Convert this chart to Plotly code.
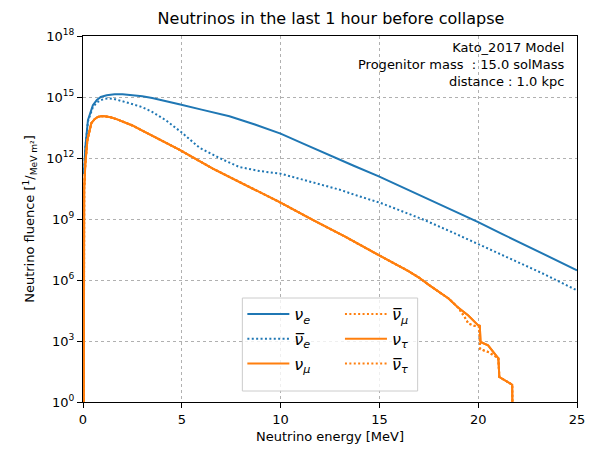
import numpy as np
import plotly.graph_objects as go

# ---------------- data (log10 of fluence) ----------------
nue_E = [0.05, 0.12, 0.25, 0.5, 0.7, 0.9, 1.2, 1.6, 2.0, 2.5, 3.0, 3.5, 4.0, 4.87, 6.0, 7.41,
         8.7, 10.0, 11.2, 12.45, 13.7, 14.97, 16.2, 17.5, 18.7, 20.0, 21.2, 22.5, 23.7, 25.0]
nue_log = [11.24, 12.54, 13.86, 14.6, 14.85, 15.0, 15.09, 15.13, 15.13, 15.1, 15.04, 14.95,
           14.85, 14.64, 14.38, 14.05, 13.65, 13.2, 12.68, 12.13, 11.62, 11.1, 10.55, 10.0,
           9.43, 8.85, 8.27, 7.67, 7.08, 6.48]

nuebar_E = [0.05, 0.12, 0.25, 0.5, 0.7, 0.9, 1.1, 1.3, 1.55, 1.8, 2.1, 2.4, 3.0, 3.5, 4.2,
            5.0, 5.9, 6.9, 7.9, 8.92, 10.0, 10.94, 11.95, 12.96, 13.97, 15.06, 16.1, 17.3,
            18.66, 20.0, 21.5, 23.2, 25.0]
nuebar_log = [11.2, 12.5, 13.8, 14.5, 14.72, 14.85, 14.91, 14.93, 14.91, 14.85, 14.78, 14.68,
              14.5, 14.27, 13.85, 13.25, 12.5, 12.0, 11.56, 11.36, 11.23, 10.99, 10.71, 10.45,
              10.12, 9.79, 9.4, 8.94, 8.36, 7.76, 7.1, 6.35, 5.49]

nux_E = [0.04, 0.06, 0.12, 0.22, 0.42, 0.6, 0.75, 0.9, 1.1, 1.4, 1.73, 2.1, 2.5, 3.0, 3.5,
         4.0, 4.87, 6.57, 8.25, 9.93, 11.6, 13.29, 14.97, 15.8, 16.47, 17.0, 17.5, 18.5,
         19.0, 19.5, 20.0, 20.08, 20.12, 20.5, 20.94, 21.02, 21.07, 21.6, 21.72, 21.74]
nux_log = [-1.0, 10.5, 11.74, 12.87, 13.71, 13.92, 14.02, 14.05, 14.05, 14.0, 13.9, 13.77,
           13.6, 13.35, 13.1, 12.85, 12.41, 11.48, 10.66, 9.84, 8.97, 8.12, 7.22, 6.8, 6.44,
           6.12, 5.76, 5.09, 4.63, 4.25, 3.77, 3.75, 2.95, 2.79, 2.21, 2.15, 1.23, 0.9, 0.85,
           -1.0]

nuxbar_E = [0.04, 0.06, 0.12, 0.22, 0.42, 0.6, 0.75, 0.9, 1.1, 1.4, 1.73, 2.1, 2.5, 3.0, 3.5,
            4.0, 4.87, 6.57, 8.25, 9.93, 11.6, 13.29, 14.97, 15.8, 16.47, 17.0, 17.5, 18.5,
            19.0, 19.3, 19.5, 19.8, 20.05, 20.1, 20.5, 20.94, 21.02, 21.07, 21.6, 21.72,
            21.74]
nuxbar_log = [-1.0, 10.5, 11.74, 12.87, 13.71, 13.92, 14.02, 14.05, 14.05, 14.0, 13.9, 13.77,
              13.6, 13.35, 13.1, 12.85, 12.41, 11.48, 10.66, 9.84, 8.97, 8.12, 7.22, 6.8,
              6.44, 6.12, 5.76, 5.09, 4.63, 4.2, 3.86, 3.75, 3.7, 2.6, 2.46, 2.21, 2.15, 1.23,
              0.9, 0.85, -1.0]

y_tick_exp = [0, 3, 6, 9, 12, 15, 18]
x_ticks = [0, 5, 10, 15, 20, 25]

BLUE = "#1f77b4"
ORANGE = "#ff7f0e"
FONT = "DejaVu Sans"
DOT = "2px,2.4px"

series = [
    ("<i>ν</i><sub><i>e</i></sub>", nue_E, nue_log, BLUE, "solid", "legend"),
    ("<i>ν\u0305</i><sub><i>e</i></sub>", nuebar_E, nuebar_log, BLUE, DOT, "legend"),
    ("<i>ν</i><sub><i>μ</i></sub>", nux_E, nux_log, ORANGE, "solid", "legend"),
    ("<i>ν\u0305</i><sub><i>μ</i></sub>", nuxbar_E, nuxbar_log, ORANGE, DOT, "legend2"),
    ("<i>ν</i><sub><i>τ</i></sub>", nux_E, nux_log, ORANGE, "solid", "legend2"),
    ("<i>ν\u0305</i><sub><i>τ</i></sub>", nuxbar_E, nuxbar_log, ORANGE, DOT, "legend2"),
]

fig = go.Figure()
for i, (name, E, lg, col, dash, leg) in enumerate(series):
    fig.add_trace(go.Scatter(
        x=E, y=np.power(10.0, np.array(lg)), mode="lines", name=name,
        line=dict(color=col, width=2, dash=dash), legend=leg,
        legendgroup=f"g{i}", showlegend=True))

W, H = 597, 459
L, R, T, B = 83, 18, 36, 57
PW, PH = W - L - R, H - T - B

fig.update_layout(
    width=W, height=H,
    margin=dict(l=L, r=R, t=T, b=B, pad=0),
    paper_bgcolor="white", plot_bgcolor="white",
    font=dict(family=FONT, size=13, color="black"),
    title=dict(text="Neutrinos in the last 1 hour before collapse",
               x=(L + PW / 2) / W, xanchor="center",
               y=1 - 18 / H, yanchor="middle",
               font=dict(size=16, family=FONT, color="black")),
    xaxis=dict(range=[0, 25], tickmode="array", tickvals=x_ticks,
               ticktext=[str(v) for v in x_ticks],
               showline=True, linecolor="black", linewidth=1, mirror=True,
               ticks="outside", ticklen=5, tickcolor="black", tickwidth=1,
               showgrid=True, gridcolor="#b0b0b0", gridwidth=0.8, griddash="dot",
               zeroline=False,
               title=dict(text="Neutrino energy [MeV]", font=dict(size=13), standoff=6)),
    yaxis=dict(type="log", range=[0, 18], tickmode="array",
               tickvals=[10.0 ** e for e in y_tick_exp],
               ticktext=[f"10<sup>{e}</sup>" for e in y_tick_exp],
               showline=True, linecolor="black", linewidth=1, mirror=True,
               ticks="outside", ticklen=5, tickcolor="black", tickwidth=1,
               showgrid=True, gridcolor="#b0b0b0", gridwidth=0.8, griddash="dot",
               zeroline=False,
               title=dict(text="Neutrino fluence [<sup>1</sup>/<sub>MeV m²</sub>]",
                          font=dict(size=13), standoff=8)),
    legend=dict(x=(243 - L) / PW, y=(402 - 297) / PH, xanchor="left", yanchor="top",
                bgcolor="rgba(0,0,0,0)", borderwidth=0, font=dict(size=16, family=FONT),
                tracegroupgap=1, itemwidth=42),
    legend2=dict(x=(341 - L) / PW, y=(402 - 297) / PH, xanchor="left", yanchor="top",
                 bgcolor="rgba(0,0,0,0)", borderwidth=0, font=dict(size=16, family=FONT),
                 tracegroupgap=1, itemwidth=42),
    showlegend=True,
)

# legend frame (matplotlib style box)
fig.add_shape(type="rect", xref="paper", yref="paper",
              x0=(243 - L) / PW, x1=(419 - L) / PW,
              y0=(402 - 391) / PH, y1=(402 - 298) / PH,
              fillcolor="rgba(255,255,255,0.8)", line=dict(color="#cccccc", width=1),
              layer="above")

fig.add_annotation(
    xref="paper", yref="paper", x=(569 - L) / PW, y=(402 - 38) / PH,
    xanchor="right", yanchor="top", align="right", showarrow=False,
    text="Kato_2017 Model<br>Progenitor mass  : 15.0 solMass<br>distance : 1.0 kpc",
    font=dict(size=13, family=FONT, color="black"))

fig.write_html("out.html")
